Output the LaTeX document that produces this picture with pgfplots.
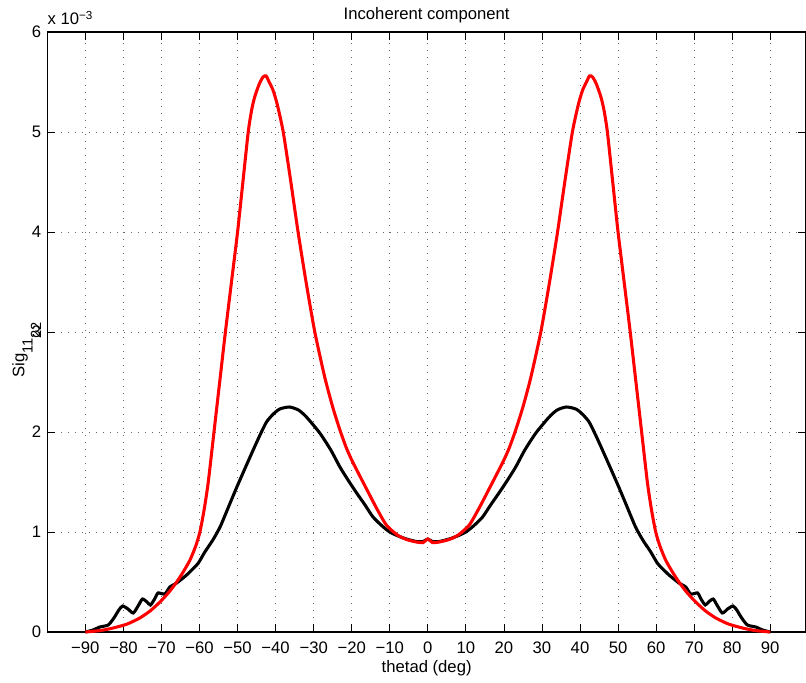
\documentclass[border=0pt]{standalone}
\usepackage{fontspec}
\setmainfont{Liberation Sans}
\usepackage{pgfplots}
\pgfplotsset{compat=1.18}
\begin{document}
\fontsize{12.5}{15}\selectfont
\begin{tikzpicture}
\begin{axis}[
 scale only axis, width=569pt, height=450pt,
 xmin=-100, xmax=99.4, ymin=0, ymax=6,
 xtick={-90,-80,...,90},
 xticklabels={−90,−80,−70,−60,−50,−40,−30,−20,−10,0,10,20,30,40,50,60,70,80,90},
 ytick={0,1,2,3,4,5,6},
 yticklabels={0,1,2,3,4,5,6},
 tick align=inside, major tick length=6pt,
 tick style={black, line width=0.6pt},
 axis line style={line width=0.8pt},
 grid=major,
 major grid style={black!60, line width=0.6pt, dash pattern=on 0.75pt off 4.5pt},
 xticklabel style={anchor=north, inner sep=0pt},
 xticklabel shift=7.5pt,
 yticklabel style={anchor=east, inner sep=0pt},
 yticklabel shift=4.5pt,
 title={Incoherent component},
 every axis title/.style={at={(rel axis cs:0.5,1.0211)}, anchor=base, inner sep=0pt},
 xlabel={thetad (deg)},
 every axis x label/.style={at={(rel axis cs:0.5,-0.0667)}, anchor=base, inner sep=0pt},
 ylabel={Sig\raisebox{-6.2pt}{\fontsize{11}{13}\selectfont 11}\raisebox{-12.5pt}{\fontsize{11}{13}\selectfont 22}},
 every axis y label/.style={at={(rel axis cs:-0.0079,0.47)}, rotate=90, anchor=south, inner sep=0pt},
 clip=false,
]
\addplot[black, line width=2.3pt, smooth, tension=0.4] coordinates {
(-90,0) (-88,0.02) (-86.2,0.05) (-84,0.07) (-82.5,0.14) (-81.2,0.22) (-80.2,0.26) (-78.8,0.23) (-77.4,0.19) (-76,0.27) (-75,0.33) (-73.8,0.30) (-72.9,0.27) (-71.8,0.33) (-70.9,0.39) (-69.1,0.38) (-67.8,0.45) (-66,0.49) (-63.4,0.57) (-61.5,0.64) (-60.3,0.69) (-58.6,0.80) (-56.5,0.92) (-54.6,1.05) (-52.5,1.24) (-50.3,1.44) (-48,1.64) (-45.9,1.82) (-44.1,1.97) (-42.4,2.10) (-40.6,2.18) (-38.9,2.23) (-36.4,2.25) (-34,2.22) (-31.9,2.15) (-28.4,1.99) (-25.5,1.82) (-23.1,1.65) (-20.8,1.51) (-18.7,1.39) (-16.5,1.27) (-14.4,1.15) (-12,1.06) (-10,1.0) (-7.8,0.96) (-5.6,0.93) (-3,0.905) (-1.2,0.905) (0,0.93)
(1.2,0.905) (3,0.905) (5.6,0.93) (7.8,0.96) (10,1.0) (12,1.06) (14.4,1.15) (16.5,1.27) (18.7,1.39) (20.8,1.51) (23.1,1.65) (25.5,1.82) (28.4,1.99) (31.9,2.15) (34,2.22) (36.4,2.25) (38.9,2.23) (40.6,2.18) (42.4,2.10) (44.1,1.97) (45.9,1.82) (48,1.64) (50.3,1.44) (52.5,1.24) (54.6,1.05) (56.5,0.92) (58.6,0.80) (60.3,0.69) (61.5,0.64) (63.4,0.57) (66,0.49) (67.8,0.45) (69.1,0.38) (70.9,0.39) (71.8,0.33) (72.9,0.27) (73.8,0.30) (75,0.33) (76,0.27) (77.4,0.19) (78.8,0.23) (80.2,0.26) (81.2,0.22) (82.5,0.14) (84,0.07) (86.2,0.05) (88,0.02) (90,0)
};
\addplot[red, line width=2.3pt, smooth, tension=0.4] coordinates {
(-90,0) (-86,0.015) (-82.7,0.04) (-79,0.08) (-75.7,0.14) (-73,0.21) (-70.4,0.30) (-68,0.40) (-66,0.50) (-64.3,0.60) (-62.5,0.72) (-61,0.86) (-59.9,1.0) (-58.8,1.22) (-57.7,1.5) (-56.2,2.0) (-54.7,2.5) (-53.2,3.0) (-51.6,3.5) (-50.0,4.0) (-48.6,4.5) (-47.2,5.0) (-46.3,5.22) (-45.5,5.35) (-44.3,5.48) (-43.3,5.55) (-42.5,5.56) (-41.7,5.5) (-40.7,5.42) (-39.6,5.28) (-38,5.0) (-36,4.5) (-34.1,4.0) (-32,3.5) (-29.7,3.0) (-27.1,2.55) (-25,2.25) (-23.1,2.02) (-21.5,1.85) (-20,1.72) (-18,1.57) (-16.1,1.43) (-13.5,1.24) (-10.9,1.07) (-8,0.97) (-5.6,0.925) (-3,0.9) (-1.2,0.895) (0,0.93)
(1.2,0.895) (3,0.9) (5.6,0.925) (8,0.97) (10.9,1.07) (13.5,1.24) (16.1,1.43) (18,1.57) (20,1.72) (21.5,1.85) (23.1,2.02) (25,2.25) (27.1,2.55) (29.7,3.0) (32,3.5) (34.1,4.0) (36,4.5) (38,5.0) (39.6,5.28) (40.7,5.42) (41.7,5.5) (42.5,5.56) (43.3,5.55) (44.3,5.48) (45.5,5.35) (46.3,5.22) (47.2,5.0) (48.6,4.5) (50.0,4.0) (51.6,3.5) (53.2,3.0) (54.7,2.5) (56.2,2.0) (57.7,1.5) (58.8,1.22) (59.9,1.0) (61,0.86) (62.5,0.72) (64.3,0.60) (66,0.50) (68,0.40) (70.4,0.30) (73,0.21) (75.7,0.14) (79,0.08) (82.7,0.04) (86,0.015) (90,0)
};
\end{axis}
\node[anchor=base west, inner sep=0pt] at ([yshift=5.25pt]current axis.north west) {x 10\textsuperscript{−3}};
\pgfresetboundingbox
\path ([xshift=-35.5pt,yshift=-37.5pt]current axis.south west) rectangle ([yshift=24pt]current axis.north east);
\end{tikzpicture}
\end{document}
